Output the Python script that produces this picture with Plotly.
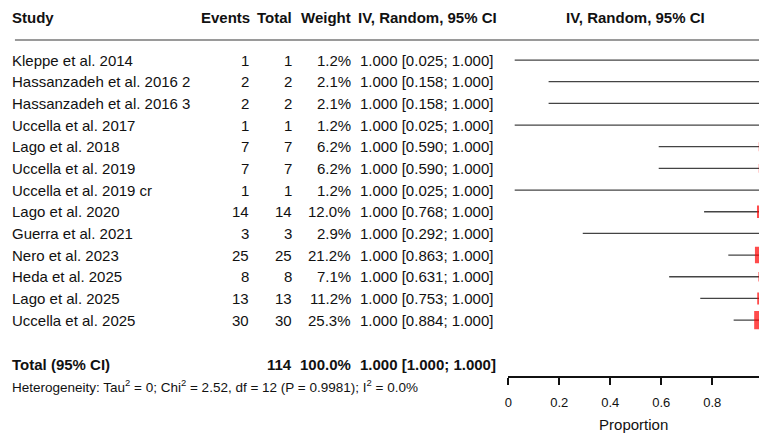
import plotly.graph_objects as go

# ---- data ----
studies = ["Kleppe et al. 2014", "Hassanzadeh et al. 2016 2", "Hassanzadeh et al. 2016 3",
           "Uccella et al. 2017", "Lago et al. 2018", "Uccella et al. 2019",
           "Uccella et al. 2019 cr", "Lago et al. 2020", "Guerra et al. 2021",
           "Nero et al. 2023", "Heda et al. 2025", "Lago et al. 2025", "Uccella et al. 2025"]
events = [1, 2, 2, 1, 7, 7, 1, 14, 3, 25, 8, 13, 30]
totals = [1, 2, 2, 1, 7, 7, 1, 14, 3, 25, 8, 13, 30]
weights = [1.2, 2.1, 2.1, 1.2, 6.2, 6.2, 1.2, 12.0, 2.9, 21.2, 7.1, 11.2, 25.3]
proportion = [1.0] * 13
ci_lower = [0.025, 0.158, 0.158, 0.025, 0.590, 0.590, 0.025, 0.768, 0.292, 0.863, 0.631, 0.753, 0.884]
ci_upper = [1.0] * 13
total_n = 114
total_weight = 100.0
pooled = 1.0
pooled_lower = 1.0
pooled_upper = 1.0
het_text = ("Heterogeneity: Tau<sup>2</sup> = 0; Chi<sup>2</sup> = 2.52, df = 12 "
            "(P = 0.9981); I<sup>2</sup> = 0.0%")
tick_vals = [0, 0.2, 0.4, 0.6, 0.8, 1.0]
tick_text = ["0", "0.2", "0.4", "0.6", "0.8", "1"]
headers = ["Study", "Events", "Total", "Weight", "IV, Random, 95% CI", "IV, Random, 95% CI"]
x_label = "Proportion"

# ---- layout constants ----
W, H = 759, 433
FONT = "Liberation Sans, Arial, Helvetica, sans-serif"
TXT = "#111111"
FS = 15
rows = list(range(1, len(studies) + 1))
total_row = 15.03
header_row = -0.94
sep_row = 0.077
x0_px = 507
plot_w = W - x0_px
x_max = plot_w / 256.25
LPAD = 5  # compensation for annotation padding on left-anchored text

def px(x):
    return x / W

fig = go.Figure()

# CI lines
for i, (lo, hi) in enumerate(zip(ci_lower, ci_upper)):
    fig.add_trace(go.Scatter(x=[lo, hi], y=[rows[i], rows[i]], mode="lines",
                             line=dict(color="#444444", width=1.3),
                             hoverinfo="skip", showlegend=False))
# squares
fig.add_trace(go.Scatter(x=proportion, y=rows, mode="markers",
                         marker=dict(symbol="square", color="#ff0000",
                                     size=[3.6 * w ** 0.5 for w in weights],
                                     line=dict(width=0)),
                         showlegend=False, hoverinfo="skip"))

ann = []
def add(text, x, y, anchor="left", bold=False, size=FS, yref="y"):
    t = f"<b>{text}</b>" if bold else text
    if anchor == "left":
        x -= LPAD
    ann.append(dict(text=t, x=px(x), y=y, xref="paper", yref=yref, xanchor=anchor,
                    yanchor="middle", showarrow=False, borderpad=0,
                    font=dict(family=FONT, size=size, color=TXT)))

# headers
add(headers[0], 12, header_row, "left", True)
add(headers[1], 248, header_row, "right", True)
add(headers[2], 291, header_row, "right", True)
add(headers[3], 350, header_row, "right", True)
add(headers[4], 360, header_row, "left", True)
add(headers[5], 635, header_row, "center", True)

for i, s in enumerate(studies):
    y = rows[i]
    add(s, 12, y, "left")
    add(str(events[i]), 247, y, "right")
    add(str(totals[i]), 291, y, "right")
    add(f"{weights[i]:.1f}%", 350, y, "right")
    add(f"{proportion[i]:.3f} [{ci_lower[i]:.3f}; {ci_upper[i]:.3f}]", 362, y, "left")

add("Total (95% CI)", 12, total_row, "left", True)
add(str(total_n), 291, total_row, "right", True)
add(f"{total_weight:.1f}%", 350, total_row, "right", True)
add(f"{pooled:.3f} [{pooled_lower:.3f}; {pooled_upper:.3f}]", 362, total_row, "left", True)
add(het_text, 12, (376 - 386) / 376, "left", False, 13.5, "paper")

fig.update_layout(
    width=W, height=H,
    margin=dict(l=0, r=0, t=0, b=57),
    paper_bgcolor="white", plot_bgcolor="white",
    annotations=ann,
    shapes=[dict(type="line", xref="paper", yref="y", x0=px(11), x1=1,
                 y0=sep_row, y1=sep_row, line=dict(color="#9a9a9a", width=2))],
    xaxis=dict(domain=[x0_px / W, 1], range=[0, x_max], showgrid=False, zeroline=False,
               showline=True, linecolor="#111111", linewidth=1.5,
               ticks="outside", ticklen=7, tickwidth=1.5, tickcolor="#111111",
               tickvals=tick_vals, ticktext=tick_text,
               tickfont=dict(family=FONT, size=13, color=TXT),
               ticklabelstandoff=7,
               title=dict(text=x_label, font=dict(family=FONT, size=15, color=TXT), standoff=10)),
    yaxis=dict(range=[15.58, -1.77], visible=False, showgrid=False, zeroline=False),
)

fig.write_html("out.html")
